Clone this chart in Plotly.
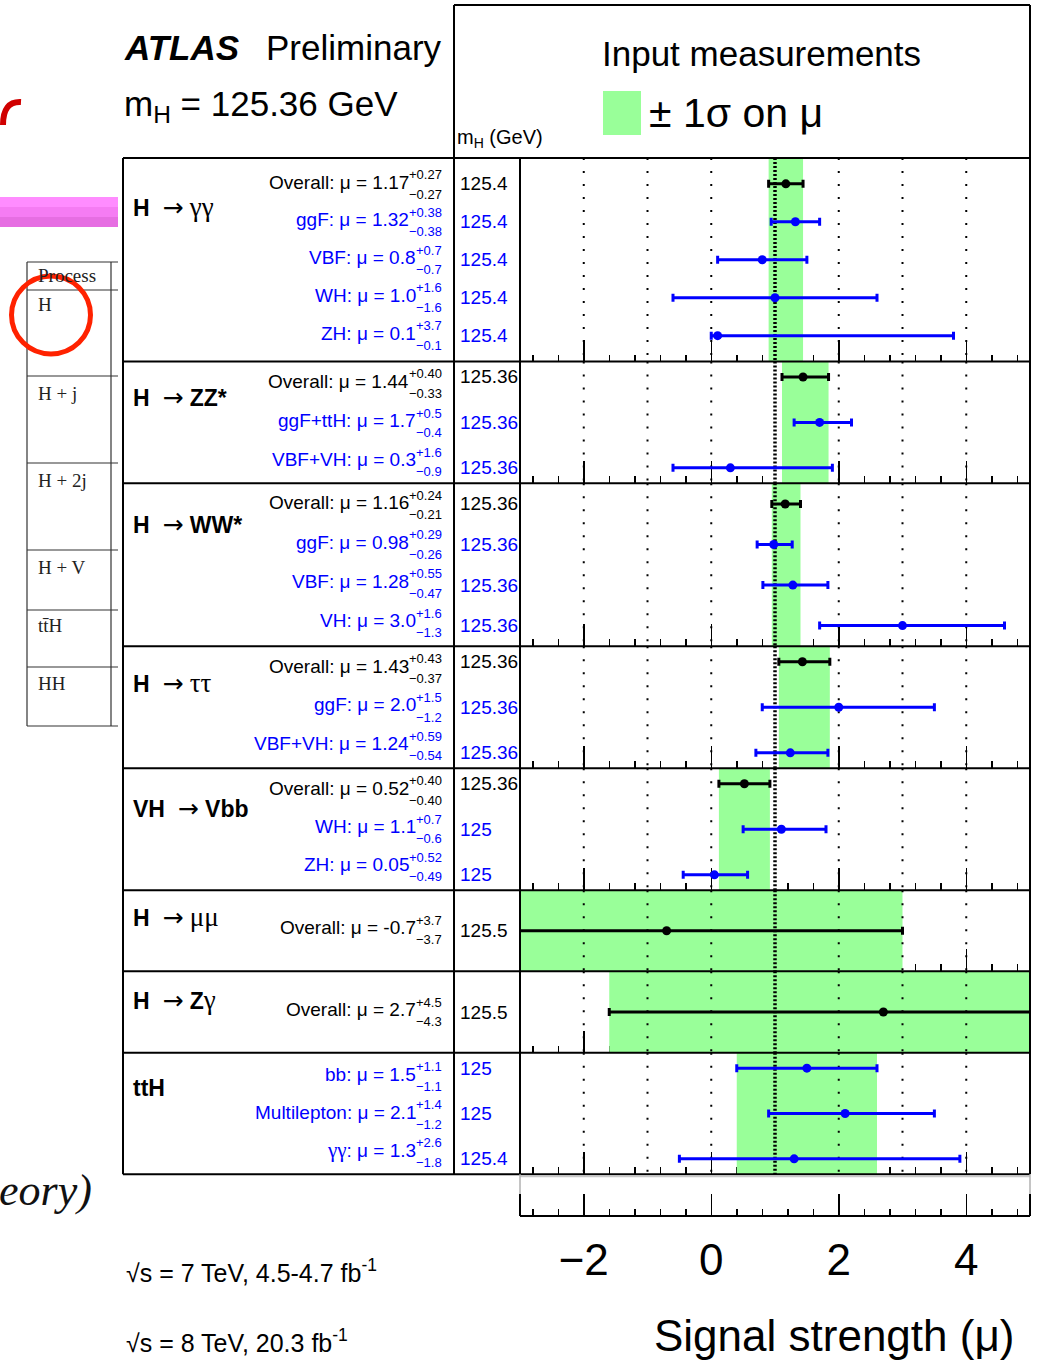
import plotly.graph_objects as go
from plotly.subplots import make_subplots

# ---------------- data ----------------
ARW = '\u00a0\u00a0<span style="font-family:DejaVu Sans;font-size:25px">→</span>\u00a0'
GRK = '<span style="font-family:Liberation Serif;font-size:27px">{}</span>'
channels = ["<b>H</b>" + ARW + GRK.format("γγ"),
            "<b>H</b>" + ARW + "<b>ZZ*</b>",
            "<b>H</b>" + ARW + "<b>WW*</b>",
            "<b>H</b>" + ARW + GRK.format("ττ"),
            "<b>VH</b>" + ARW + "<b>Vbb</b>",
            "<b>H</b>" + ARW + GRK.format("μμ"),
            "<b>H</b>" + ARW + "<b>Z</b>" + GRK.format("γ"),
            "<b>ttH</b>"]

meas_channel = [0, 0, 0, 0, 0,
                1, 1, 1,
                2, 2, 2, 2,
                3, 3, 3,
                4, 4, 4,
                5,
                6,
                7, 7, 7]
meas_label = ["Overall", "ggF", "VBF", "WH", "ZH",
              "Overall", "ggF+ttH", "VBF+VH",
              "Overall", "ggF", "VBF", "VH",
              "Overall", "ggF", "VBF+VH",
              "Overall", "WH", "ZH",
              "Overall",
              "Overall",
              "bb", "Multilepton",
              '<span style="font-family:Liberation Serif;font-size:21px">γγ</span>']
is_overall = [1, 0, 0, 0, 0,
              1, 0, 0,
              1, 0, 0, 0,
              1, 0, 0,
              1, 0, 0,
              1,
              1,
              0, 0, 0]
mu = [1.17, 1.32, 0.8, 1.0, 0.1,
      1.44, 1.7, 0.3,
      1.16, 0.98, 1.28, 3.0,
      1.43, 2.0, 1.24,
      0.52, 1.1, 0.05,
      -0.7,
      2.7,
      1.5, 2.1, 1.3]
err_up = [0.27, 0.38, 0.7, 1.6, 3.7,
          0.40, 0.5, 1.6,
          0.24, 0.29, 0.55, 1.6,
          0.43, 1.5, 0.59,
          0.40, 0.7, 0.52,
          3.7,
          4.5,
          1.1, 1.4, 2.6]
err_dn = [0.27, 0.38, 0.7, 1.6, 0.1,
          0.33, 0.4, 0.9,
          0.21, 0.26, 0.47, 1.3,
          0.37, 1.2, 0.54,
          0.40, 0.6, 0.49,
          3.7,
          4.3,
          1.1, 1.2, 1.8]
decimals = [2, 2, 1, 1, 1,
            2, 1, 1,
            2, 2, 2, 1,
            2, 1, 2,
            2, 1, 2,
            1,
            1,
            1, 1, 1]
mass = [125.4, 125.4, 125.4, 125.4, 125.4,
        125.36, 125.36, 125.36,
        125.36, 125.36, 125.36, 125.36,
        125.36, 125.36, 125.36,
        125.36, 125, 125,
        125.5,
        125.5,
        125, 125, 125.4]
guide_values = [-2, -1, 0, 2, 3, 4]
sm_value = 1
x_range = [-3, 5]
table_rows = ["Process", "H", "H + j", "H + 2j", "H + V", "tt\u0304H", "HH"]

# ---------------- style / layout ----------------
SANS = "Liberation Sans, Arial, Helvetica, sans-serif"
SERIF = "Liberation Serif, Times New Roman, serif"
BLACK = "#000000"
BLUE = "#0000ff"
GREEN = "#99ff99"

W, H = 1040, 1360
X0PX, X1PX = 520, 1030
EDGES = [158, 361.5, 483.3, 646.3, 768.3, 890.3, 971.3, 1052.7, 1174.3, 1216]
TOP, BOT = EDGES[0], EDGES[-1]

text_first = [24, 20, 19.4, 20, 20, 37.6, 38.3, 21.3]
text_step = [37.8, 39.2, 39.3, 38.7, 38.3, 0, 0, 38]
title_offset = [49, 35.8, 40.7, 36.3, 40, 26.6, 29, 35.6]


def fx(px):
    return (px - X0PX) / (X1PX - X0PX)


def fy(py):
    return (BOT - py) / (BOT - TOP)


CW = {str(d): 0.556 for d in range(10)}
CW.update({".": 0.278, "+": 0.584, "−": 0.584, "-": 0.333})


def textw(s):
    return sum(CW.get(c, 0.556) for c in s)


n_panels = len(channels)
heights = [EDGES[i + 1] - EDGES[i] for i in range(len(EDGES) - 1)]
fig = make_subplots(rows=n_panels + 1, cols=1, shared_xaxes=False,
                    vertical_spacing=0, row_heights=heights)

annotations = []


def ann(text, px, py=None, size=19, color=BLACK, xanchor="left", family=SANS,
        yref="paper", yval=None):
    annotations.append(dict(
        text=text, x=fx(px), y=fy(py) if yval is None else yval,
        xref="paper", yref=yref, xanchor=xanchor, yanchor="middle",
        showarrow=False, borderpad=0,
        font=dict(family=family, size=size, color=color)))


SCRIPT = 13
MAIN = 19

for p in range(n_panels):
    idx = [k for k in range(len(mu)) if meas_channel[k] == p]
    n = len(idx)
    if n == 1:
        yr = [-0.5, 0.5]
    else:
        m = 0.17 * (n - 1)
        yr = [-(n - 1) - m, m]
    yvals = [-i for i in range(n)]
    row = p + 1
    yname = "y" if p == 0 else f"y{p + 1}"

    # +-1 sigma band (first measurement of channel)
    k0 = idx[0]
    lo, hi = mu[k0] - err_dn[k0], mu[k0] + err_up[k0]
    fig.add_trace(go.Scatter(x=[lo, hi, hi, lo, lo],
                             y=[yr[0], yr[0], yr[1], yr[1], yr[0]],
                             mode="lines", fill="toself", fillcolor=GREEN,
                             line=dict(width=0, color=GREEN), hoverinfo="skip"),
                  row=row, col=1)
    # dotted guides
    gx, gy = [], []
    for g in guide_values:
        gx += [g, g, None]
        gy += [yr[1], yr[0], None]
    fig.add_trace(go.Scatter(x=gx, y=gy, mode="lines",
                             line=dict(color=BLACK, width=2, dash="2px,11px"),
                             hoverinfo="skip"), row=row, col=1)
    fig.add_trace(go.Scatter(x=[sm_value, sm_value], y=[yr[1], yr[0]], mode="lines",
                             line=dict(color=BLACK, width=3.5, dash="2px,2px"),
                             hoverinfo="skip"), row=row, col=1)
    # measurements
    for flag, col in [(0, BLUE), (1, BLACK)]:
        sel = [(i, k) for i, k in enumerate(idx) if is_overall[k] == flag]
        if not sel:
            continue
        fig.add_trace(go.Scatter(
            x=[mu[k] for i, k in sel], y=[yvals[i] for i, k in sel],
            mode="markers", marker=dict(size=9, color=col),
            error_x=dict(type="data", symmetric=False,
                         array=[err_up[k] for i, k in sel],
                         arrayminus=[err_dn[k] for i, k in sel],
                         color=col, thickness=3, width=4)),
            row=row, col=1)
    fig.update_yaxes(range=yr, visible=False, fixedrange=True, row=row, col=1)

    # texts
    T = EDGES[p]
    ann(channels[p], 132, T + title_offset[p], size=23)
    for i, k in enumerate(idx):
        d = decimals[k]
        colr = BLACK if is_overall[k] else BLUE
        ty = T + text_first[p] + i * text_step[p]
        sup = "+" + f"{err_up[k]:.{d}f}"
        sub = "−" + f"{err_dn[k]:.{d}f}"
        ws = max(textw(sup), textw(sub)) * SCRIPT
        ann(f"{meas_label[k]}: μ = {mu[k]:.{d}f}", 443 - ws, ty, size=MAIN,
            color=colr, xanchor="right")
        ann(sup, 443, ty - 7.5, size=SCRIPT, color=colr, xanchor="right")
        ann(sub, 443, ty + 12, size=SCRIPT, color=colr, xanchor="right")
        ann(f"{mass[k]:g}", 459, size=MAIN, color=colr, yref=yname, yval=yvals[i])

# empty bottom axis panel
fig.add_trace(go.Scatter(x=[None], y=[None], mode="markers", hoverinfo="skip"),
              row=n_panels + 1, col=1)
fig.update_yaxes(range=[0, 1], showticklabels=False, ticks="", showgrid=False,
                 zeroline=False, showline=False, fixedrange=True,
                 row=n_panels + 1, col=1)

for r in range(1, n_panels + 2):
    last = r == n_panels + 1
    fig.update_xaxes(range=x_range, showgrid=False, zeroline=False, showline=False,
                     ticks="inside", tick0=0, dtick=2, ticklen=22, tickwidth=1.5,
                     tickcolor=BLACK, layer="below traces",
                     minor=dict(ticks="inside", tick0=0, dtick=0.4, ticklen=7,
                                tickwidth=1.5, tickcolor=BLACK, showgrid=False),
                     showticklabels=last, fixedrange=True,
                     tickfont=dict(family=SANS, size=44, color=BLACK),
                     ticklabelstandoff=14,
                     row=r, col=1)

# ---------------- frame shapes ----------------
shapes = []


def line(x0, y0, x1, y1, color=BLACK, width=2):
    shapes.append(dict(type="line", xref="paper", yref="paper",
                       x0=fx(x0), y0=fy(y0), x1=fx(x1), y1=fy(y1),
                       line=dict(color=color, width=width), layer="above"))


for e in EDGES[:-1]:
    line(123, e, 1030, e)
line(123, TOP, 123, EDGES[-2])
line(454, 5, 454, EDGES[-2])
line(520, TOP, 520, EDGES[-2])
line(1030, 5, 1030, EDGES[-2])
line(454, 5, 1030, 5)
# bottom axis box
line(520, 1176.5, 1030, 1176.5, color="#c8c8c8", width=1.5)
line(520, EDGES[-2], 520, BOT, color="#b0b0b0", width=1.5)
line(1030, EDGES[-2], 1030, BOT, color="#b0b0b0", width=1.5)
line(520, 1194, 520, BOT)
line(1030, 1194, 1030, BOT)
line(520, BOT, 1030, BOT)

# legend
shapes.append(dict(type="rect", xref="paper", yref="paper",
                   x0=fx(603), x1=fx(641), y0=fy(91), y1=fy(135),
                   fillcolor=GREEN, line=dict(width=0), layer="above"))

# left overlay (slide behind)
for (y0, y1, c) in [(197, 207, "#ff8cff"), (207, 217, "#f57cf3"), (217, 227, "#e66ee2")]:
    shapes.append(dict(type="rect", xref="paper", yref="paper",
                       x0=fx(0), x1=fx(118), y0=fy(y0), y1=fy(y1),
                       fillcolor=c, line=dict(width=0), layer="above"))
tab_lines = [262, 290, 376, 463, 550, 610, 667, 726]
for yl in tab_lines:
    line(27, yl, 118, yl, color="#333333", width=1.2)
line(27, 262, 27, 726, color="#333333", width=1.2)
line(111, 262, 111, 726, color="#333333", width=1.2)
shapes.append(dict(type="circle", xref="paper", yref="paper",
                   x0=fx(11.5), x1=fx(90.5), y0=fy(276), y1=fy(354),
                   line=dict(color="#ff2200", width=5), layer="above"))
shapes.append(dict(type="path", xref="paper", yref="paper",
                   path=f"M {fx(3)},{fy(125)} Q {fx(3)},{fy(101)} {fx(21)},{fy(102)}",
                   line=dict(color="#d00000", width=6), layer="above"))

table_y = [276, 304, 393, 480, 567, 625, 683]
for t, yy in zip(table_rows, table_y):
    ann(t, 37, yy, size=19, family=SERIF, color="#222222")
ann("<i>eory)</i>", 93, 1190, size=44, family=SERIF, color="#111111", xanchor="right")

# headers
ann("<b><i>ATLAS</i></b>", 123, 48, size=35)
ann("Preliminary", 265, 48, size=35)
ann("m<sub>H</sub> = 125.36 GeV", 123, 106, size=35)
ann("Input measurements", 601, 53, size=35)
ann("± 1σ on μ", 648, 113, size=41)
ann("m<sub>H</sub> (GeV)", 456, 139, size=20)
ann("√s = 7 TeV, 4.5-4.7 fb<sup>-1</sup>", 125, 1271, size=25)
ann("√s = 8 TeV, 20.3 fb<sup>-1</sup>", 125, 1341, size=25)
ann("Signal strength (μ)", 1015, 1335, size=44, xanchor="right")

fig.update_layout(width=W, height=H, showlegend=False,
                  margin=dict(l=X0PX, r=W - X1PX, t=TOP, b=H - BOT, pad=0),
                  plot_bgcolor="white", paper_bgcolor="white",
                  annotations=annotations, shapes=shapes,
                  font=dict(family=SANS, color=BLACK))

fig.write_html("out.html", config={"displayModeBar": False, "staticPlot": True},
               post_script="document.body.style.margin='0px';document.body.style.overflow='hidden';")
